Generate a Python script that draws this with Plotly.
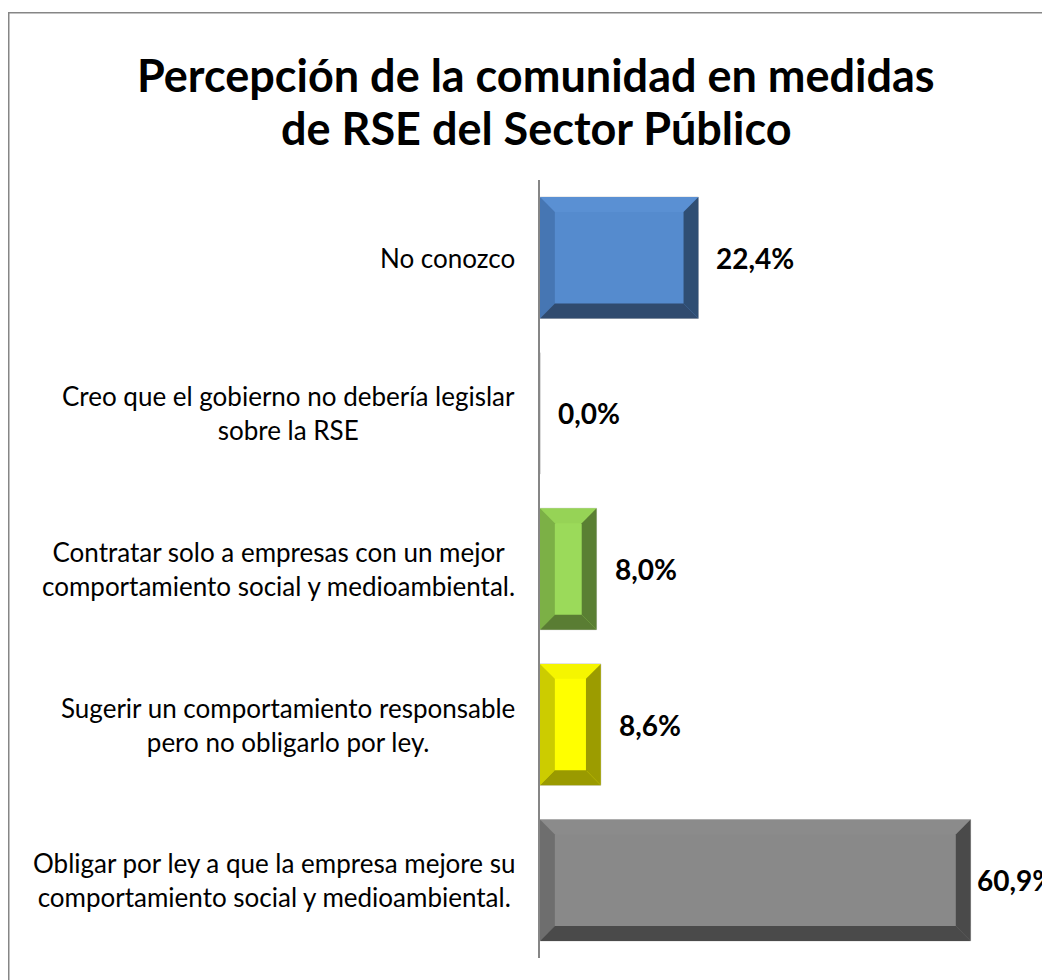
import plotly.graph_objects as go

categories = [
    "No conozco",
    "Creo que el gobierno no debería legislar<br>sobre la RSE",
    "Contratar solo a empresas con un mejor<br>comportamiento social y medioambiental.",
    "Sugerir un comportamiento responsable<br>pero no obligarlo por ley.",
    "Obligar por ley a que la empresa mejore su<br>comportamiento social y medioambiental.",
]
values = [22.4, 0.0, 8.0, 8.6, 60.9]
title_lines = ["Percepción de la comunidad en medidas", "de RSE del Sector Público"]

face_colors = ["#558BCE", "#FFFFFF", "#9BDA5A", "#FFFF00", "#898989"]
top_colors = ["#5A90D3", "#FFFFFF", "#96D356", "#F5F500", "#8B8B8B"]
left_colors = ["#4676B3", "#FFFFFF", "#7CB046", "#CCCC00", "#6E6E6E"]
right_colors = ["#2F4E73", "#FFFFFF", "#5A7F33", "#9C9C00", "#4A4A4A"]
bottom_colors = ["#304B6F", "#FFFFFF", "#5A7D33", "#9A9A00", "#4A4A4A"]
label_shift = [16, 16, 16, 16, 4]

FONT = "Lato, Open Sans, sans-serif"
positions = list(range(len(categories)))
HALF = 0.39
BX = 2.1
BY = 0.096

W, H = 1042, 972
L, T, R, B = 532, 172, 15, 22
pw, ph = W - L - R, H - T - B

def px_x(px):
    return (px - L) / pw

def px_y(py):
    return (H - B - py) / ph

fig = go.Figure()
fig.add_trace(go.Bar(
    y=positions, x=values, orientation="h",
    width=2 * HALF,
    marker=dict(color=face_colors, line=dict(color="#CFCFCF", width=1)),
    hoverinfo="skip", showlegend=False,
))

def poly(xs, ys, color):
    fig.add_trace(go.Scatter(
        x=xs + [xs[0]], y=ys + [ys[0]], mode="lines", fill="toself",
        fillcolor=color, line=dict(width=0, color=color),
        hoverinfo="skip", showlegend=False,
    ))

for i, v in enumerate(values):
    if v <= 0:
        continue
    y = positions[i]
    t, b = y - HALF, y + HALF
    poly([0, v, v - BX, BX], [t, t, t + BY, t + BY], top_colors[i])
    poly([0, BX, BX, 0], [t, t + BY, b - BY, b], left_colors[i])
    poly([v, v, v - BX, v - BX], [t, b, b - BY, t + BY], right_colors[i])
    poly([0, v, v - BX, BX], [b, b, b - BY, b - BY], bottom_colors[i])

for i, v in enumerate(values):
    fig.add_annotation(
        x=v, y=positions[i], xref="x", yref="y",
        text="<b>" + f"{v:.1f}".replace(".", ",") + "%</b>",
        showarrow=False, xanchor="left", xshift=label_shift[i],
        font=dict(family=FONT, size=28, color="#000000"),
    )

for i, cat in enumerate(categories):
    fig.add_annotation(
        x=0, y=positions[i], xref="x", yref="y",
        text=cat, showarrow=False, xanchor="right", yanchor="middle",
        align="center", xshift=-23,
        font=dict(family=FONT, size=26, color="#000000"),
    )

for line, yc in zip(title_lines, [67, 120]):
    fig.add_annotation(
        x=px_x(528), y=px_y(yc), xref="paper", yref="paper",
        text="<b>" + line + "</b>", showarrow=False,
        xanchor="center", yanchor="middle",
        font=dict(family=FONT, size=45, color="#000000"),
    )

fig.add_shape(
    type="rect", xref="paper", yref="paper",
    x0=px_x(0.75), x1=px_x(1080),
    y0=px_y(1010), y1=px_y(4.75),
    line=dict(color="#868686", width=1.5), fillcolor="rgba(0,0,0,0)",
)

fig.update_layout(
    width=W, height=H,
    margin=dict(l=L, r=R, t=T, b=B),
    paper_bgcolor="white", plot_bgcolor="white",
    xaxis=dict(range=[0, 70], visible=False, fixedrange=True),
    yaxis=dict(
        tickvals=positions, ticktext=categories, showticklabels=False,
        range=[4.5, -0.5],
        showline=True, linecolor="#868686", linewidth=1.5,
        showgrid=False, zeroline=False, ticks="",
    ),
    bargap=0.22,
)

fig.write_html("out.html")
